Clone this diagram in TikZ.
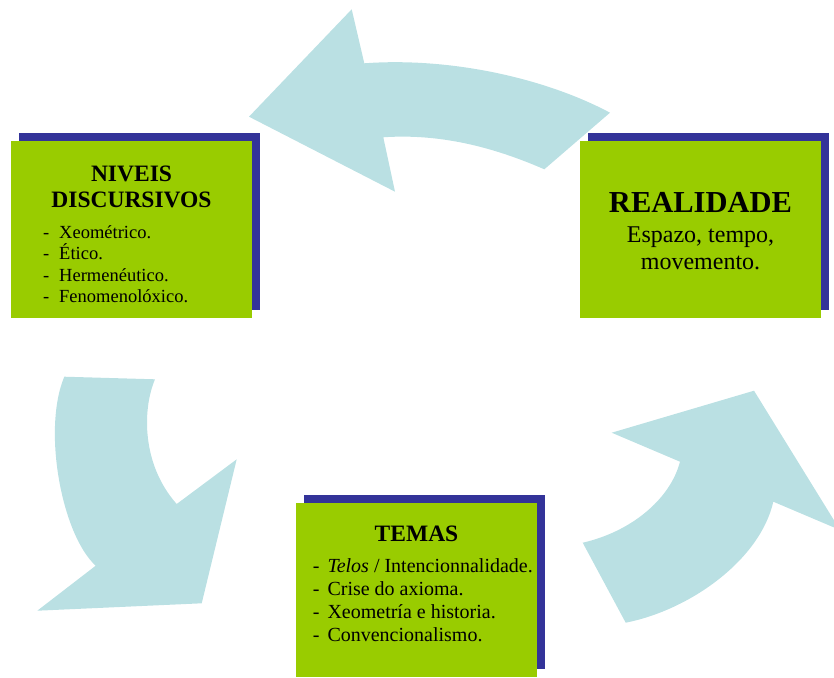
\documentclass[tikz,border=0pt]{standalone}
\usepackage{fontspec}
\setmainfont{Liberation Serif}
\definecolor{arrowc}{HTML}{BAE0E3}
\definecolor{boxg}{HTML}{99CC00}
\definecolor{shadowb}{HTML}{333399}
\begin{document}
\begin{tikzpicture}[x=1pt,y=-1pt,
  arrowshape/.style={fill=arrowc,draw=none},
  greenbox/.style={fill=boxg,draw=none,minimum width=241pt,minimum height=177pt,inner sep=0pt},
  shadowbox/.style={fill=shadowb,draw=none,minimum width=241pt,minimum height=177pt,inner sep=0pt},
  titletext/.style={font=\fontsize{23.5}{27}\selectfont\bfseries,anchor=base,inner sep=0pt},
  bigtitle/.style={font=\fontsize{30.5}{34}\selectfont\bfseries,anchor=base,inner sep=0pt},
  subtext/.style={font=\fontsize{24}{28}\selectfont,anchor=base,inner sep=0pt},
  itemtext/.style={font=\fontsize{18.5}{22}\selectfont,anchor=base west,inner sep=0pt},
  bigitem/.style={font=\fontsize{20}{24}\selectfont,anchor=base west,inner sep=0pt}]
\useasboundingbox (0,0) rectangle (834,677);
\clip (0,0) rectangle (834,677);
% arrows
\fill[arrowshape] (249,116.7) -- (351.7,9.3) -- (364.3,63.3)
  .. controls (450,57) and (545,78) .. (610,112.7)
  -- (544.3,169.3)
  .. controls (500,150) and (445,133) .. (383.3,137.3)
  -- (395,191.7) -- cycle;
\fill[arrowshape] (64.3,376.7) -- (155,379.3)
  .. controls (142,410) and (142,465) .. (176.7,504)
  -- (236.7,459.3) -- (201.7,603.3) -- (37.3,610.7) -- (95.7,565.7)
  .. controls (62,535) and (42,430) .. (64.3,376.7) -- cycle;
\fill[arrowshape] (754,390.7) -- (840,530) -- (773.3,501.7)
  .. controls (760,560) and (690,610) .. (625.7,622.7)
  -- (582.7,542.7)
  .. controls (630,532) and (670,500) .. (680,461.7)
  -- (611.7,432.7) -- cycle;
% shadows
\node[shadowbox] (niveiss) at (139.5,221.5) {};
\node[shadowbox] (realidades) at (708.5,221.5) {};
\node[shadowbox,minimum height=174pt] (temass) at (424.5,582) {};
% boxes
\node[greenbox] (niveis) at (131.5,229.5) {};
\node[greenbox] (realidade) at (700.5,229.5) {};
\node[greenbox,minimum height=174pt] (temas) at (416.5,590) {};
% NIVEIS text
\node[titletext] (n1) at (131.5,181) {NIVEIS};
\node[titletext] (n2) at (131.5,207.3) {DISCURSIVOS};
\node[itemtext] (nd1) at (43,238.3) {-};
\node[itemtext] (ni1) at (59,238.3) {Xeométrico.};
\node[itemtext] (nd2) at (43,259.8) {-};
\node[itemtext] (ni2) at (59,259.8) {Ético.};
\node[itemtext] (nd3) at (43,281.3) {-};
\node[itemtext] (ni3) at (59,281.3) {Hermenéutico.};
\node[itemtext] (nd4) at (43,302.8) {-};
\node[itemtext] (ni4) at (59,302.8) {Fenomenolóxico.};
% REALIDADE text
\node[bigtitle] (r1) at (700.5,212.3) {REALIDADE};
\node[subtext] (r2) at (700.5,242.7) {Espazo, tempo,};
\node[subtext] (r3) at (700.5,269) {movemento.};
% TEMAS text
\node[titletext] (t1) at (416.5,541.7) {TEMAS};
\node[bigitem] (td1) at (312.7,572.3) {-};
\node[bigitem] (ti1) at (327.3,572.3) {\textit{Telos} / Intencionnalidade.};
\node[bigitem] (td2) at (312.7,595.3) {-};
\node[bigitem] (ti2) at (327.3,595.3) {Crise do axioma.};
\node[bigitem] (td3) at (312.7,618.3) {-};
\node[bigitem] (ti3) at (327.3,618.3) {Xeometría e historia.};
\node[bigitem] (td4) at (312.7,641.3) {-};
\node[bigitem] (ti4) at (327.3,641.3) {Convencionalismo.};
\end{tikzpicture}
\end{document}
